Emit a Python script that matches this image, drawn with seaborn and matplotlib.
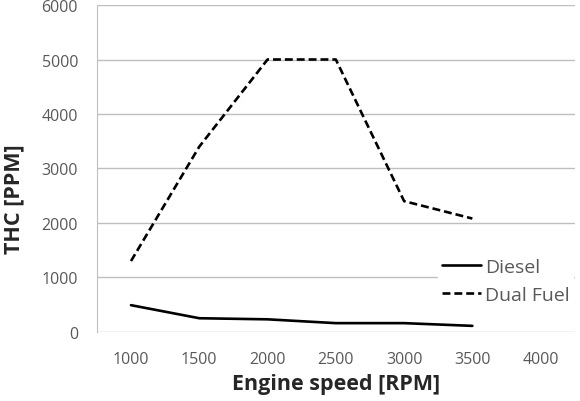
import pandas as pd
import matplotlib
matplotlib.use('Agg')
import matplotlib.pyplot as plt
import seaborn as sns

# Values
speeds = [1000, 1500, 2000, 2500, 3000, 3500]
diesel = [490, 250, 230, 160, 160, 110]
dual_fuel = [1300, 3400, 5000, 5000, 2400, 2080]
x_ticks = [1000, 1500, 2000, 2500, 3000, 3500, 4000]
y_ticks = [0, 1000, 2000, 3000, 4000, 5000, 6000]

data = pd.DataFrame({
    'Engine speed': speeds * 2,
    'THC': diesel + dual_fuel,
    'Fuel': ['Diesel'] * len(speeds) + ['Dual Fuel'] * len(speeds),
})

sns.set_style('white')
plt.rcParams['font.family'] = ['Open Sans', 'DejaVu Sans']

fig = plt.figure(figsize=(5.8, 4.02), dpi=100)
ax = fig.add_axes([0.167, 0.172, 0.824, 0.813])

sns.lineplot(data=data, x='Engine speed', y='THC', hue='Fuel', style='Fuel',
             palette=['black', 'black'], dashes=[(None, None), (3, 1.5)],
             linewidth=1.9, ax=ax)

ax.set_xlim(750, 4250)
ax.set_ylim(0, 6000)
ax.set_xticks(x_ticks)
ax.set_yticks(y_ticks)
ax.yaxis.grid(True, color='#bfbfbf', linewidth=1)
ax.set_axisbelow(True)
ax.tick_params(length=0, labelsize=11.5, labelcolor='#595959')
ax.tick_params(axis='x', pad=14)
ax.tick_params(axis='y', pad=13.5)

for side in ['top', 'right', 'bottom']:
    ax.spines[side].set_visible(False)
ax.spines['left'].set_color('#bfbfbf')

ax.set_xlabel('Engine speed [RPM]', fontsize=15.5, fontweight='bold', color='#262626', labelpad=4)
ax.set_ylabel('THC [PPM]', fontsize=15.5, fontweight='bold', color='#262626')
ax.yaxis.set_label_coords(-0.152, 0.41)

leg = ax.legend(loc='lower right', bbox_to_anchor=(1.017, 0.045), frameon=True,
                fontsize=14, handlelength=2.0, handletextpad=0.2,
                labelspacing=0.5, borderpad=0.2)
leg.get_frame().set_edgecolor('white')
leg.get_frame().set_facecolor('white')
leg.get_frame().set_alpha(1)
for t in leg.get_texts():
    t.set_color('#595959')

plt.savefig('out.png', dpi=100)
